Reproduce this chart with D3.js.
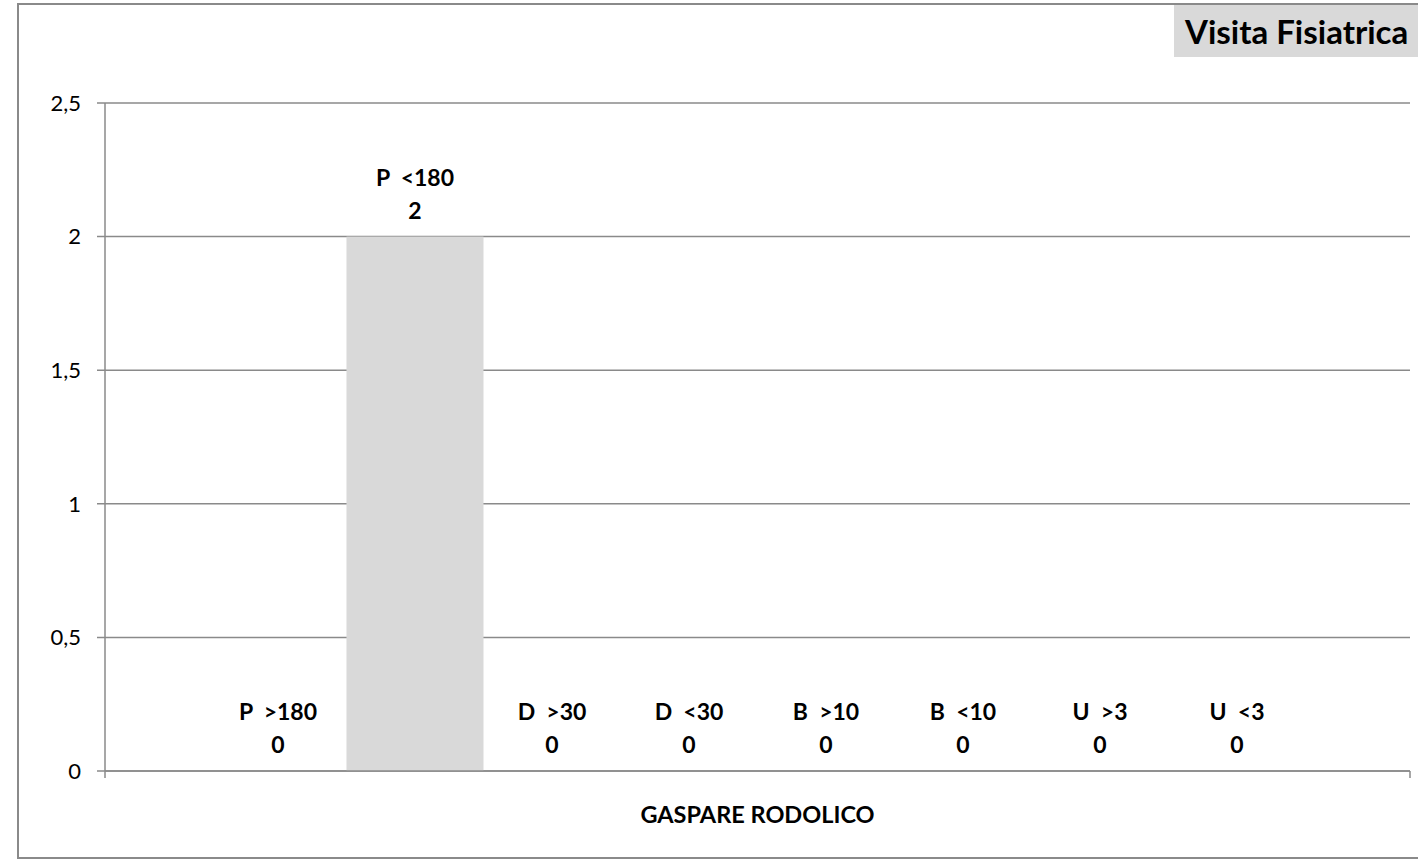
<!DOCTYPE html>
<html><head><meta charset="utf-8">
<script src="https://cdn.jsdelivr.net/npm/d3@7"></script>
<style>
html,body{margin:0;padding:0;background:#fff;}
svg{display:block;font-family:Lato,"Open Sans",sans-serif;}
</style></head>
<body><svg id="c" width="1418" height="862"></svg>
<script>
const title = "Visita Fisiatrica";
const category = "GASPARE RODOLICO";
const seriesNames = ["P  >180","P  <180","D  >30","D  <30","B  >10","B  <10","U  >3","U  <3"];
const seriesValues = [0,2,0,0,0,0,0,0];
const yTicks = [0,0.5,1,1.5,2,2.5];
const yTickLabels = ["0","0,5","1","1,5","2","2,5"];

const svg = d3.select("#c");
const L = 105, R = 1410, T = 103, B = 771;
const grid = "#8a8a8a";

// outer border
svg.append("rect").attr("x",18).attr("y",4).attr("width",1420).attr("height",854)
  .attr("fill","#fff").attr("stroke",grid).attr("stroke-width",2);

const y = d3.scaleLinear().domain([0,2.5]).range([B,T]);
const x = d3.scaleBand().domain(seriesNames).range([L,R]).paddingInner(0).paddingOuter(0.7625);

// gridlines + ticks
svg.append("g").selectAll("line").data(yTicks).join("line")
  .attr("x1",97).attr("x2",R).attr("y1",d=>y(d)).attr("y2",d=>y(d))
  .attr("stroke",grid).attr("stroke-width",1.5);
svg.append("g").selectAll("text").data(yTicks).join("text")
  .attr("x",81).attr("y",d=>y(d)).attr("dy","0.35em").attr("text-anchor","end")
  .attr("font-size",22).attr("fill","#000").text((d,i)=>yTickLabels[i]);

// bars
svg.append("g").selectAll("rect").data(seriesValues).join("rect")
  .attr("x",(d,i)=>x(seriesNames[i])).attr("width",x.bandwidth())
  .attr("y",d=>y(d)).attr("height",d=>B-y(d)).attr("fill","#d9d9d9");

// axes lines
svg.append("line").attr("x1",L).attr("x2",L).attr("y1",T).attr("y2",B+7).attr("stroke",grid).attr("stroke-width",1.5);
svg.append("line").attr("x1",L).attr("x2",R).attr("y1",B).attr("y2",B).attr("stroke",grid).attr("stroke-width",1.5);
svg.append("line").attr("x1",R).attr("x2",R).attr("y1",B).attr("y2",B+7).attr("stroke",grid).attr("stroke-width",1.5);

// data labels
const lab = svg.append("g").attr("font-weight","bold").attr("font-size",23).attr("text-anchor","middle").attr("fill","#000");
seriesValues.forEach((v,i)=>{
  const cx = x(seriesNames[i]) + x.bandwidth()/2;
  lab.append("text").attr("x",cx).attr("y",y(v)-59).attr("dy","0.35em").attr("xml:space","preserve")
    .style("white-space","pre").text(seriesNames[i]);
  lab.append("text").attr("x",cx).attr("y",y(v)-26).attr("dy","0.35em").text(String(v));
});

// category label
svg.append("text").attr("x",(L+R)/2).attr("y",815).attr("dy","0.35em").attr("text-anchor","middle")
  .attr("font-weight","bold").attr("font-size",23.5).text(category);

// title
svg.append("rect").attr("x",1174).attr("y",5).attr("width",250).attr("height",52).attr("fill","#d9d9d9");
svg.append("text").attr("x",1185).attr("y",32).attr("dy","0.35em").attr("font-weight","bold")
  .attr("font-size",33).attr("fill","#000").text(title);
</script></body></html>
